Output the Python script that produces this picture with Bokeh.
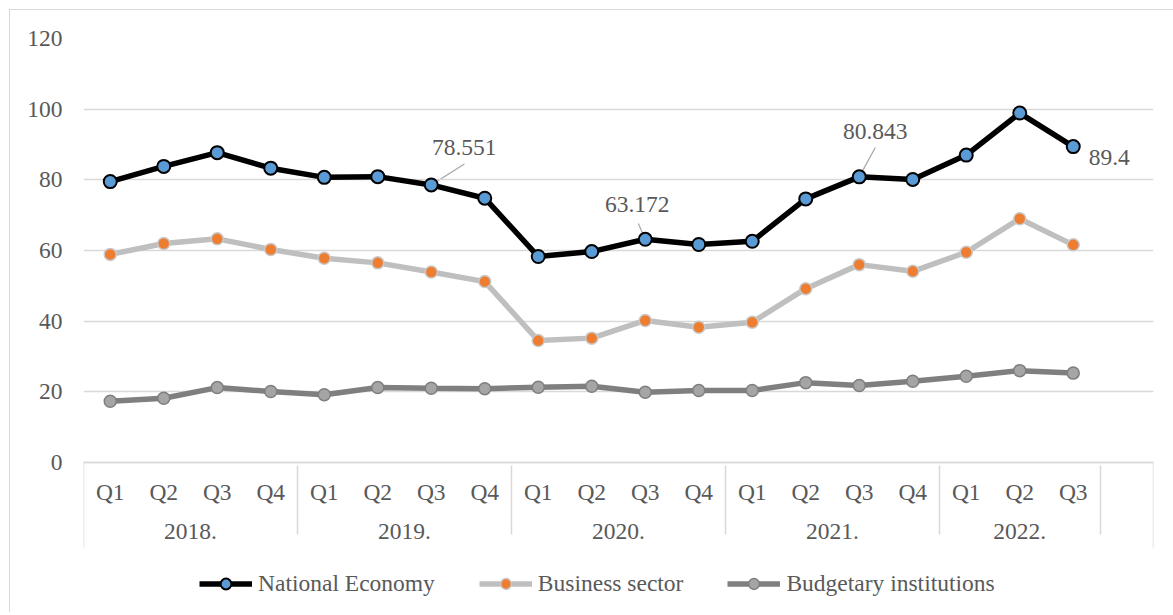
from bokeh.plotting import figure
from bokeh.models import FactorRange, Legend, LegendItem, FixedTicker, ColumnDataSource, Range1d
from bokeh.core.properties import value
from bokeh.embed import file_html
from bokeh.resources import INLINE

years = ["2018.", "2019.", "2020.", "2021.", "2022."]
quarters = ["Q1", "Q2", "Q3", "Q4"]
n_last = 3  # quarters available in 2022

national = [79.5, 83.8, 87.7, 83.3, 80.7, 80.9, 78.551, 74.8, 58.3, 59.7, 63.172, 61.7,
            62.6, 74.6, 80.843, 80.1, 87.0, 98.9, 89.4]
business = [58.9, 62.0, 63.3, 60.3, 57.8, 56.5, 53.9, 51.2, 34.5, 35.2, 40.2, 38.3,
            39.7, 49.2, 56.0, 54.1, 59.5, 69.0, 61.6]
budget = [17.35, 18.2, 21.2, 20.1, 19.2, 21.2, 21.0, 20.9, 21.3, 21.6, 19.9, 20.4,
          20.4, 22.6, 21.8, 23.0, 24.4, 26.0, 25.3]
labelled = [6, 10, 14, 18]
y_ticks = [0, 20, 40, 60, 80, 100, 120]

FONT = "Liberation Serif"
TXT = "#595959"
FS = "23.5px"

factors = []
for yr in years:
    qs = quarters if yr != years[-1] else quarters[:n_last]
    for q in qs:
        factors.append((yr, q))
data_factors = list(factors)
factors.append((" ", " "))

# layout: value axis 0..120 spans 424 px; the frame extends 150 px below 0 to host the
# category axis and the legend (axis drawn at a fixed location y=0)
PLOT_H = 424
EXTRA = 150
ppu = PLOT_H / 120.0
ybot = -EXTRA / ppu

p = figure(x_range=FactorRange(*factors, group_padding=0, factor_padding=0, range_padding=0),
           y_range=Range1d(ybot, 120), frame_width=1070, frame_height=PLOT_H + EXTRA,
           min_border_left=73, min_border_top=28, min_border_right=20, min_border_bottom=0,
           output_backend="svg", toolbar_location=None)
p.margin = (9, 0, 0, 9)
p.styles = {"border-top": "1px solid #d9d9d9", "border-left": "1px solid #d9d9d9"}
p.outline_line_color = None
p.background_fill_color = "white"
p.border_fill_color = "white"

p.xgrid.grid_line_color = None
p.ygrid.grid_line_color = "#d9d9d9"
p.ygrid.grid_line_width = 1.5

p.yaxis.ticker = FixedTicker(ticks=y_ticks)
p.yaxis.axis_line_color = None
p.yaxis.major_tick_line_color = None
p.yaxis.minor_tick_line_color = None
p.yaxis.major_label_standoff = 15
p.yaxis.major_label_text_font = FONT
p.yaxis.major_label_text_font_size = FS
p.yaxis.major_label_text_color = TXT

xa = p.xaxis[0]
xa.fixed_location = 0
xa.axis_line_color = "#d9d9d9"
xa.axis_line_width = 1.5
xa.major_tick_line_color = None
xa.minor_tick_line_color = None
xa.major_label_standoff = 10
xa.major_label_text_font = FONT
xa.major_label_text_font_size = FS
xa.major_label_text_color = TXT
xa.group_text_font = FONT
xa.group_text_font_size = FS
xa.group_text_color = TXT
xa.group_text_font_style = "normal"
xa.separator_line_color = "#d9d9d9"
xa.separator_line_width = 1.5

# outer boundary ticks of the category axis (at both ends of the category range)
sep_depth = -85 / ppu
n_slots = len(factors)
p.segment(x0=[0, n_slots], y0=[0, 0], x1=[0, n_slots], y1=[sep_depth, sep_depth],
          line_color="#d9d9d9", line_width=1.5)

src = ColumnDataSource(dict(x=data_factors, nat=national, bus=business, bud=budget))

l3 = p.line("x", "bud", source=src, line_color="#7f7f7f", line_width=5.5)
s3 = p.scatter("x", "bud", source=src, size=12, fill_color="#a5a5a5", line_color="#7f7f7f", line_width=1.5)
l2 = p.line("x", "bus", source=src, line_color="#bfbfbf", line_width=5.5)
s2 = p.scatter("x", "bus", source=src, size=12, fill_color="#ed7d31", line_color="#c9c9c9", line_width=1.5)
l1 = p.line("x", "nat", source=src, line_color="black", line_width=5.5)
s1 = p.scatter("x", "nat", source=src, size=13, fill_color="#5b9bd5", line_color="black", line_width=2)

# data labels with leader lines (offsets are styling only; screen y grows downward)
dx_px = [33, -8, 16, 36]
dy_px = [-37, -35, -45, 11]
lead_dx = [0.62, -0.13, 0.3, 0.0]
lead_dy = [5.9, 4.5, 8.3, 0.0]
lx = [i + 0.5 for i in labelled]
ly = [national[i] for i in labelled]
lab = ColumnDataSource(dict(
    x=lx, y=ly, t=[f"{national[i]:g}" for i in labelled], dx=dx_px, dy=dy_px,
    x1=[a + b for a, b in zip(lx, lead_dx)], y1=[a + b for a, b in zip(ly, lead_dy)]))
p.segment("x", "y", "x1", "y1", source=lab, line_color="#a6a6a6", line_width=1.2, level="underlay")
p.text("x", "y", text="t", source=lab, x_offset="dx", y_offset="dy",
       text_font=value(FONT), text_font_size=FS, text_color=TXT,
       text_align="center", text_baseline="middle")

legend = Legend(items=[
    LegendItem(label="National Economy", renderers=[l1, s1]),
    LegendItem(label="Business sector", renderers=[l2, s2]),
    LegendItem(label="Budgetary institutions", renderers=[l3, s3]),
], orientation="horizontal", location=(116, 15), padding=0, margin=0, spacing=44,
    glyph_width=53, glyph_height=27, label_standoff=6, label_height=27,
    label_text_font=FONT, label_text_font_size=FS, label_text_color=TXT,
    border_line_color=None, background_fill_alpha=0)
p.add_layout(legend)

open("out.html", "w").write(file_html(p, INLINE))
